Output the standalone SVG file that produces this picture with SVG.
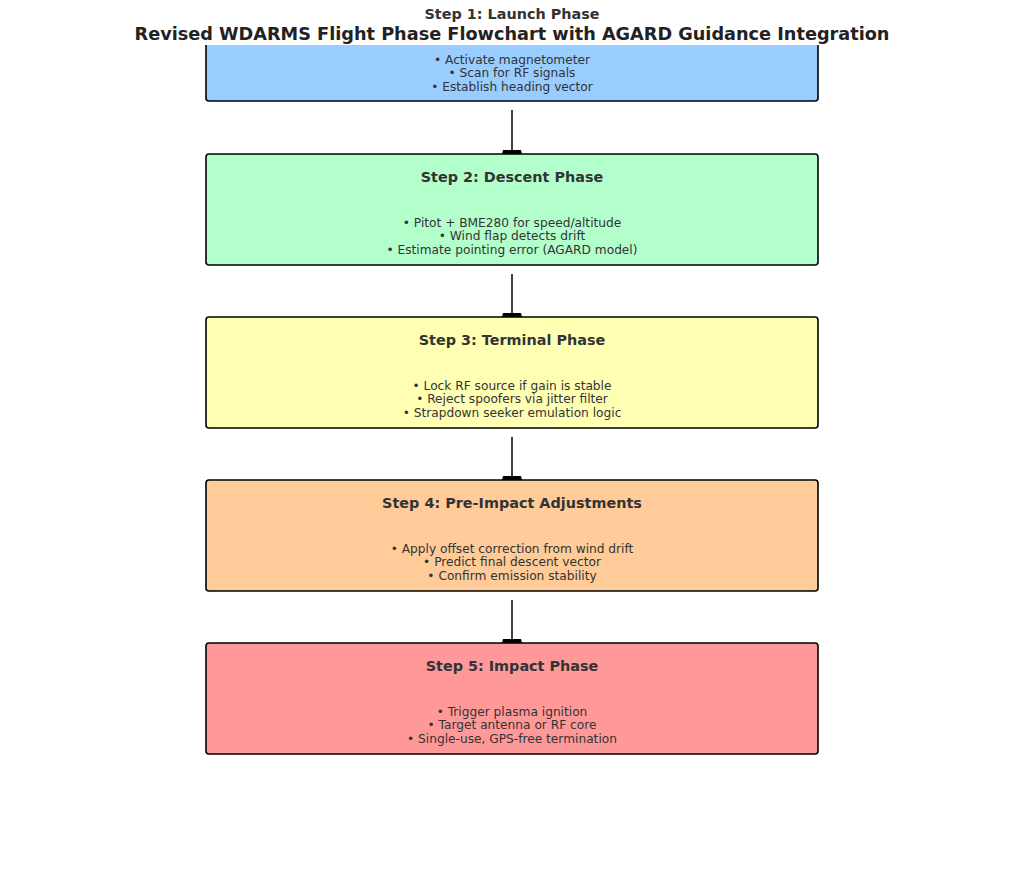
<svg xmlns="http://www.w3.org/2000/svg" width="1024" height="870" viewBox="0 0 1024 870">
<defs>
<style>
.box{stroke:#000;stroke-width:1.6}
.t{font-family:"DejaVu Sans",sans-serif;font-weight:bold;font-size:14.4px;fill:#333;text-anchor:middle}
.b{font-family:"DejaVu Sans",sans-serif;font-size:12.2px;fill:#333;text-anchor:middle}
.hdr{font-family:"DejaVu Sans",sans-serif;font-weight:bold;font-size:17.7px;fill:#222;text-anchor:middle}
.c{stroke:#000;stroke-width:1.5;fill:none}
</style>
<clipPath id="ax"><rect x="0" y="45" width="1024" height="825"/></clipPath>
</defs>
<rect width="1024" height="870" fill="#fff"/>
<g id="step1">
<rect class="box" x="206" y="-9" width="612" height="110" rx="3" fill="#99ccff" clip-path="url(#ax)"/>
<text class="t" x="512" y="19">Step 1: Launch Phase</text>
<text class="b" x="512" y="64">• Activate magnetometer</text>
<text class="b" x="512" y="77">• Scan for RF signals</text>
<text class="b" x="512" y="91">• Establish heading vector</text>
</g>
<g id="step2">
<rect class="box" x="206" y="154" width="612" height="111" rx="3" fill="#b3ffcc"/>
<text class="t" x="512" y="182">Step 2: Descent Phase</text>
<text class="b" x="512" y="227">• Pitot + BME280 for speed/altitude</text>
<text class="b" x="512" y="240">• Wind flap detects drift</text>
<text class="b" x="512" y="254">• Estimate pointing error (AGARD model)</text>
</g>
<g id="step3">
<rect class="box" x="206" y="317" width="612" height="111" rx="3" fill="#ffffb3"/>
<text class="t" x="512" y="345">Step 3: Terminal Phase</text>
<text class="b" x="512" y="390">• Lock RF source if gain is stable</text>
<text class="b" x="512" y="403">• Reject spoofers via jitter filter</text>
<text class="b" x="512" y="417">• Strapdown seeker emulation logic</text>
</g>
<g id="step4">
<rect class="box" x="206" y="480" width="612" height="111" rx="3" fill="#ffcc99"/>
<text class="t" x="512" y="508">Step 4: Pre-Impact Adjustments</text>
<text class="b" x="512" y="553">• Apply offset correction from wind drift</text>
<text class="b" x="512" y="566">• Predict final descent vector</text>
<text class="b" x="512" y="580">• Confirm emission stability</text>
</g>
<g id="step5">
<rect class="box" x="206" y="643" width="612" height="111" rx="3" fill="#ff9999"/>
<text class="t" x="512" y="671">Step 5: Impact Phase</text>
<text class="b" x="512" y="716">• Trigger plasma ignition</text>
<text class="b" x="512" y="729">• Target antenna or RF core</text>
<text class="b" x="512" y="743">• Single-use, GPS-free termination</text>
</g>
<g id="connectors">
<line class="c" x1="512" y1="110" x2="512" y2="150"/>
<polygon points="502,154 522,154 521,150 503,150" fill="#000"/>
<line class="c" x1="512" y1="274" x2="512" y2="313"/>
<polygon points="502,317 522,317 521,313 503,313" fill="#000"/>
<line class="c" x1="512" y1="437" x2="512" y2="476"/>
<polygon points="502,480 522,480 521,476 503,476" fill="#000"/>
<line class="c" x1="512" y1="600" x2="512" y2="639"/>
<polygon points="502,643 522,643 521,639 503,639" fill="#000"/>
</g>
<text class="hdr" x="512" y="40">Revised WDARMS Flight Phase Flowchart with AGARD Guidance Integration</text>
</svg>
